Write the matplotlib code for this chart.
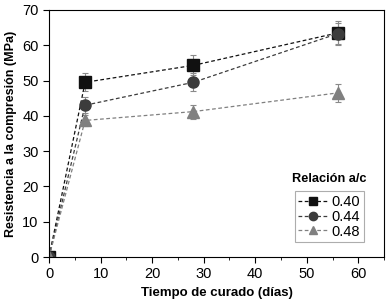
import matplotlib
matplotlib.use("Agg")
import matplotlib.pyplot as plt
from matplotlib.ticker import MultipleLocator

plt.rcParams["font.family"] = ["Liberation Sans", "DejaVu Sans"]

dias = [0, 7, 28, 56]
r040 = [0, 49.5, 54.3, 63.5]
r044 = [0, 43.0, 49.5, 63.3]
r048 = [0, 38.7, 41.2, 46.5]
err040 = [0, 2.5, 2.8, 3.3]
err044 = [0, 2.2, 2.6, 3.0]
err048 = [0, 1.6, 2.0, 2.5]
etiquetas = ["0.40", "0.44", "0.48"]

fig = plt.figure(figsize=(3.92, 3.02), dpi=100)
ax = fig.add_axes([0.125, 0.149, 0.855, 0.818])

series = [
    (r040, err040, "s", "#111111"),
    (r044, err044, "o", "#3c3c3c"),
    (r048, err048, "^", "#808080"),
]
handles = []
for (vals, errs, mk, col), lab in zip(series, etiquetas):
    eb = ax.errorbar(dias, vals, yerr=errs, fmt=mk, ls=(0, (3, 2)), lw=0.9,
                     color=col, ms=8, ecolor="#8a8a8a", elinewidth=0.8,
                     capsize=2.5, capthick=0.8, label=lab)
    handles.append(eb[0])

ax.set_xlim(0, 65)
ax.set_ylim(0, 70)
ax.xaxis.set_major_locator(MultipleLocator(10))
ax.xaxis.set_minor_locator(MultipleLocator(5))
ax.yaxis.set_major_locator(MultipleLocator(10))
ax.tick_params(axis="both", which="both", direction="out", labelsize=10.5,
               top=False, right=False)
ax.tick_params(which="major", length=4)
ax.tick_params(which="minor", length=2.5)
ax.set_xlabel("Tiempo de curado (días)", fontsize=9.5, fontweight="bold")
ax.set_ylabel("Resistencia a la compresión (MPa)", fontsize=9, fontweight="bold")

leg = ax.legend(handles, etiquetas, loc="lower right", bbox_to_anchor=(0.94, 0.06),
                fontsize=10.5, frameon=True, fancybox=False, edgecolor="#999999",
                handlelength=2.0, handletextpad=0.3, borderpad=0.25,
                labelspacing=0.05, markerscale=0.75, borderaxespad=0)
leg.get_frame().set_linewidth(0.8)
ax.text(0.948, 0.29, "Relación a/c", transform=ax.transAxes, ha="right",
        va="bottom", fontsize=9.2, fontweight="bold")

fig.savefig("out.png", dpi=100)
